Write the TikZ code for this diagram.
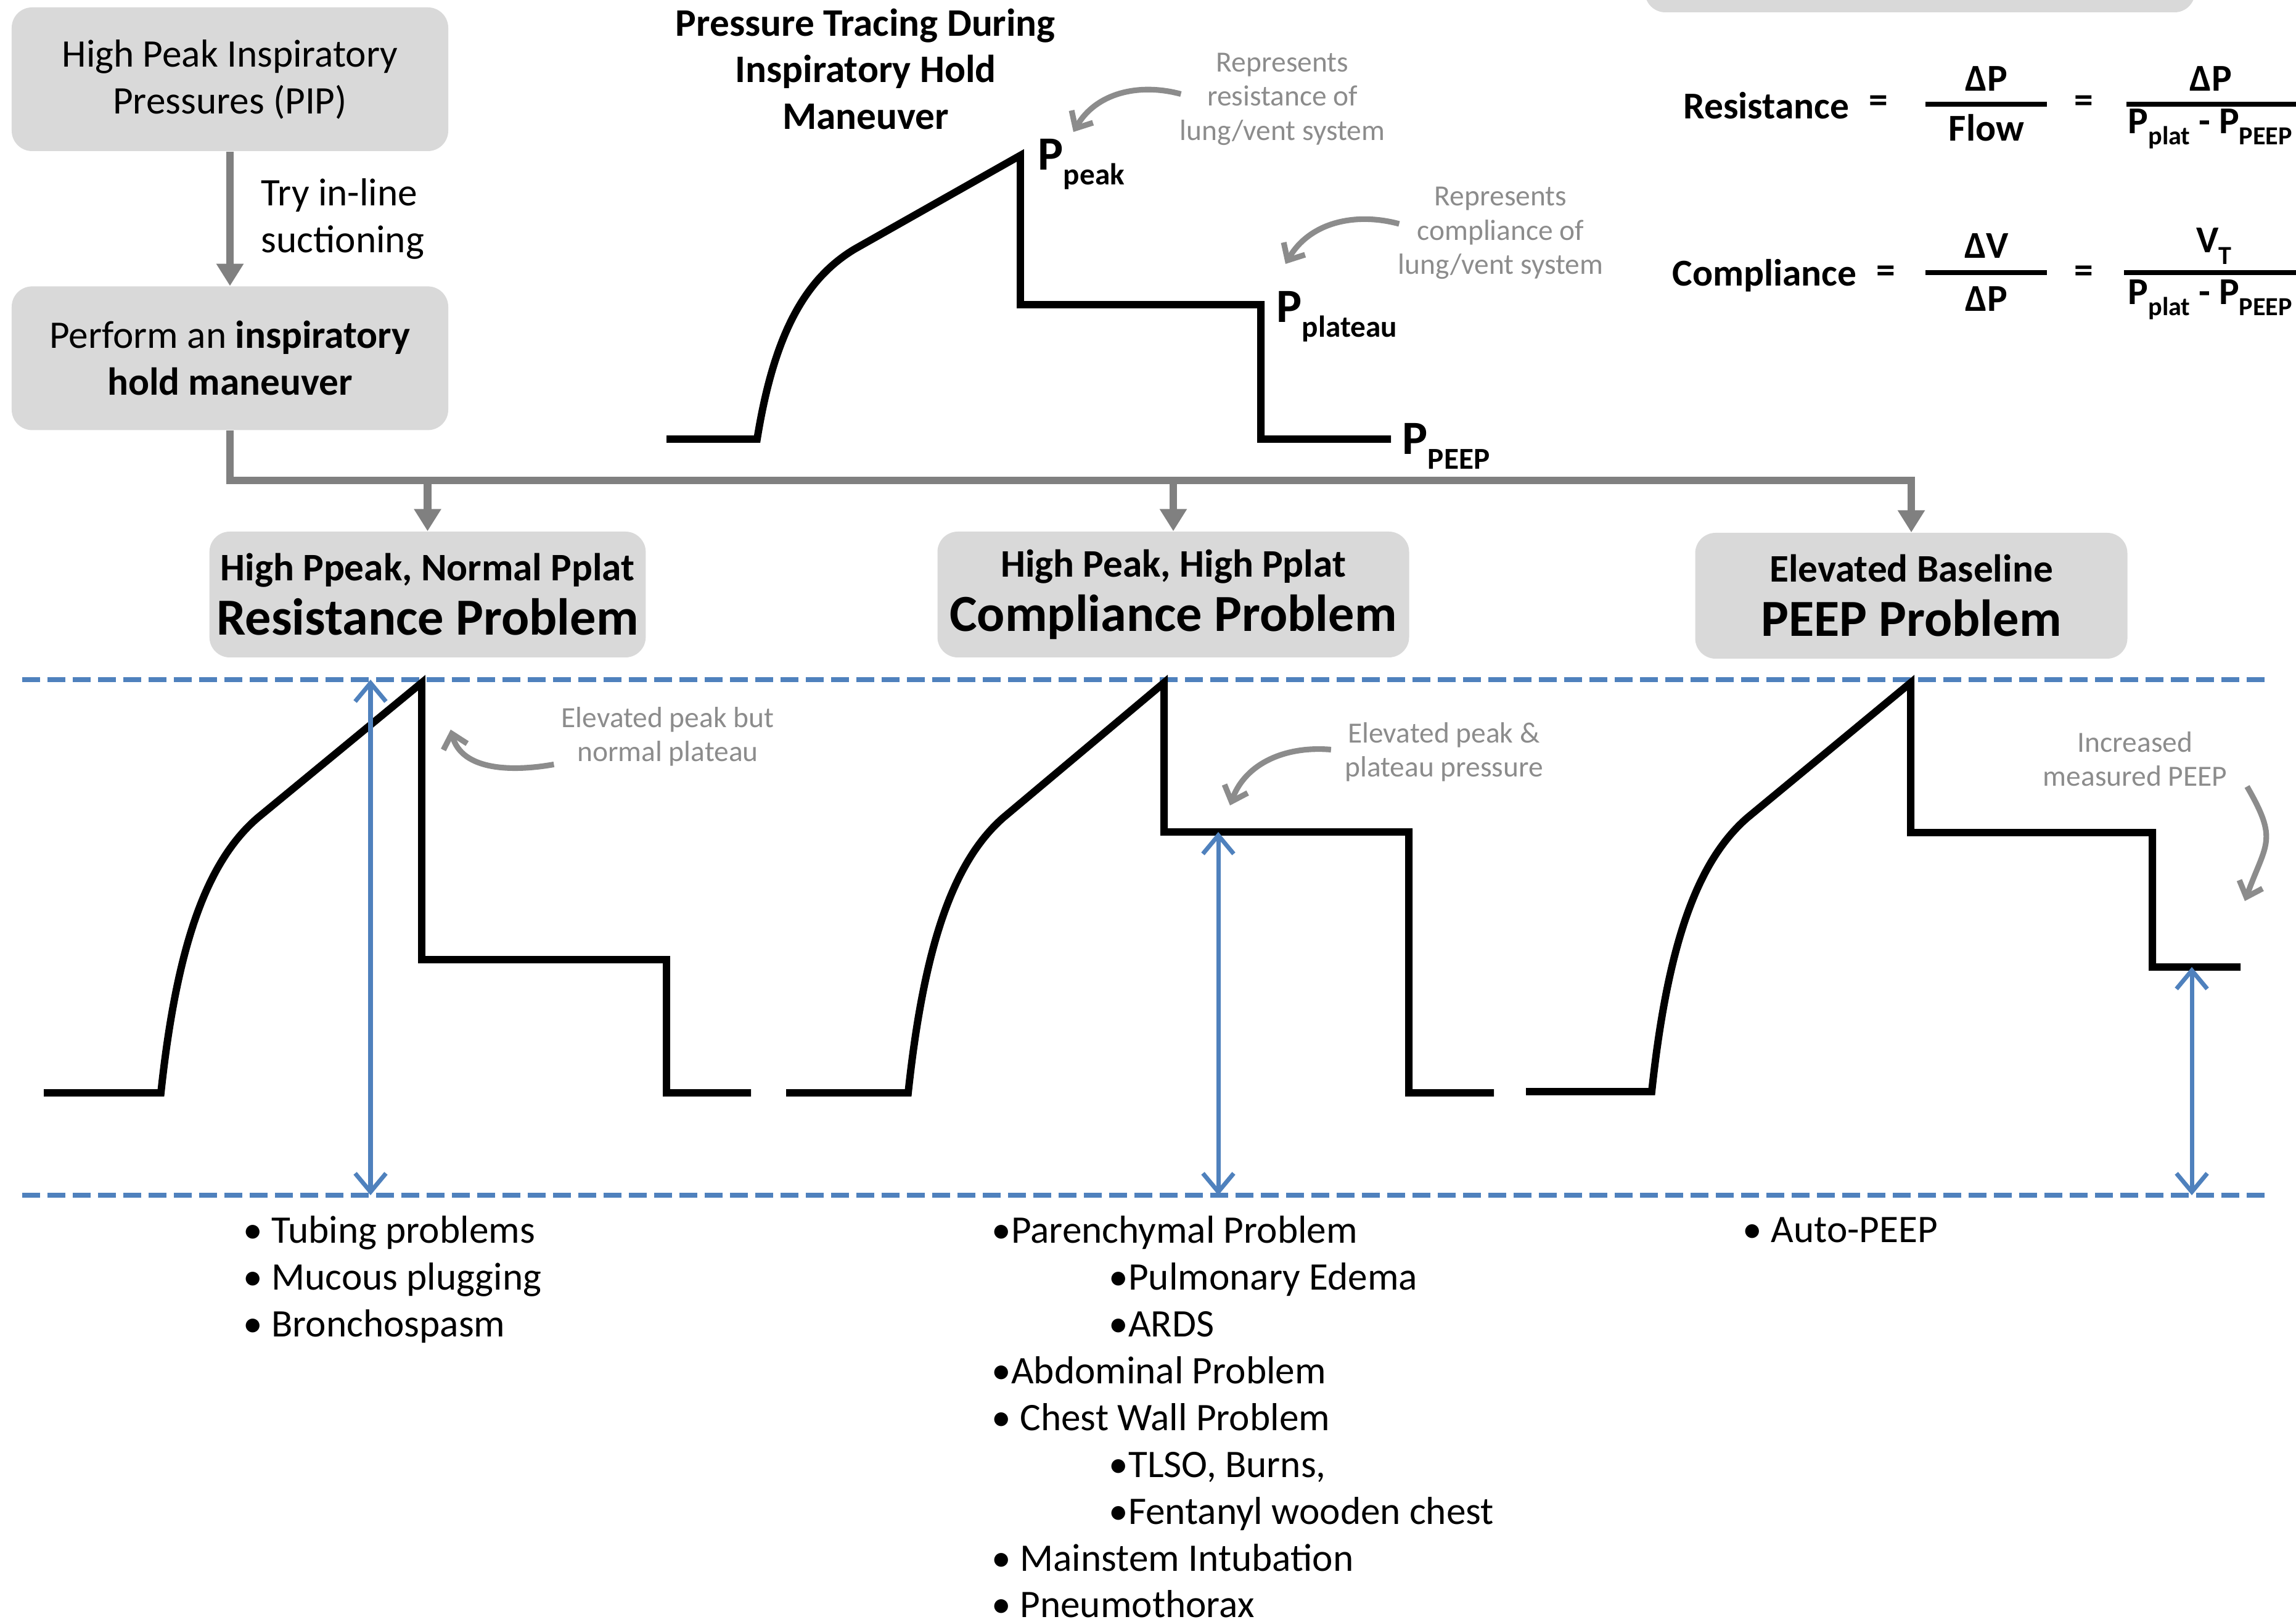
\documentclass[tikz,border=0pt]{standalone}
\usepackage{fontspec}
\setmainfont{Carlito}
\usetikzlibrary{positioning, arrows.meta}
\definecolor{boxgray}{HTML}{D9D9D9}
\definecolor{flowgray}{HTML}{808080}
\definecolor{notegray}{HTML}{8C8C8C}
\definecolor{levelblue}{HTML}{4F81BD}
\newcommand{\psub}[2][13]{\raisebox{-0.3em}{\fontsize{#1}{#1}\selectfont #2}}

\begin{document}
\begin{tikzpicture}[
    gbox/.style={rectangle, fill=boxgray, rounded corners=0.33cm, align=center,
                 minimum width=7.08cm, minimum height=2.33cm,
                 font=\fontsize{18}{21.6}\selectfont},
    probbox/.style={rectangle, fill=boxgray, rounded corners=0.33cm, align=center,
                 minimum height=2.04cm, font=\fontsize{24}{25}\selectfont\bfseries},
    flow/.style={-{Triangle[width=0.42cm,length=0.36cm]}, line width=3.5pt, color=flowgray},
    wave/.style={line width=3.4pt},
    span/.style={{Straight Barb[width=0.5cm,length=0.3cm]}-{Straight Barb[width=0.5cm,length=0.3cm]},
                 line width=2pt, color=levelblue},
    guide/.style={line width=2.2pt, color=levelblue, dash pattern=on 0.29cm off 0.12cm},
    annot/.style={text=notegray, align=center, font=\fontsize{13.5}{15.8}\selectfont},
    notearrow/.style={-{Straight Barb[width=0.4cm,length=0.22cm]}, line width=2.6pt, color=notegray},
    plabel/.style={anchor=base west, inner sep=0pt, font=\fontsize{22}{26}\selectfont\bfseries},
    eqtext/.style={inner sep=0pt, font=\fontsize{17.5}{21}\selectfont\bfseries},
    bullets/.style={anchor=north west, align=left, inner sep=0pt, font=\fontsize{18}{21.6}\selectfont}
]
    \useasboundingbox (0,0) rectangle (37.24,26.29);
    \clip (0,0) rectangle (37.24,26.29);

    % flow chart on the left
    \node[gbox] (pip) at (3.73,25.005) {High Peak Inspiratory\\Pressures (PIP)};
    \node[gbox, below=2.18cm of pip] (hold) {Perform an \textbf{inspiratory}\\\textbf{hold maneuver}};
    \draw[flow] (pip) -- (hold)
        node[midway, right, xshift=0.33cm, align=left, text=black,
             font=\fontsize{18}{21.6}\selectfont] {Try in-line\\suctioning};

    % the three problem boxes
    \node[probbox, minimum width=7.07cm] (resbox) at (6.935,16.65)
        {{\fontsize{18}{22}\selectfont High Ppeak, Normal Pplat}\\Resistance Problem};
    \node[probbox, minimum width=7.65cm] (compbox) at (19.03,16.65)
        {{\fontsize{18}{22}\selectfont High Peak, High Pplat}\\Compliance Problem};
    \node[probbox, minimum width=7.01cm] (peepbox) at (31.0,16.63)
        {{\fontsize{18}{22}\selectfont Elevated Baseline}\\PEEP Problem};

    \coordinate (bus) at (3.73,18.50);
    \draw[flow] (hold.south) -- (bus) -| (peepbox.north);
    \draw[flow] (resbox.north |- bus) -- (resbox.north);
    \draw[flow] (compbox.north |- bus) -- (compbox.north);

    % pressure tracing at the top
    \node[align=center, font=\fontsize{18}{21.6}\selectfont\bfseries] (ttl) at (14.04,25.17)
        {Pressure Tracing During\\Inspiratory Hold\\Maneuver};
    \coordinate (t0) at (10.81,19.17);
    \coordinate (t1) at (12.28,19.17);
    \coordinate (tkn) at (13.86,22.25);
    \coordinate (tpk) at (16.55,23.77);
    \coordinate (tpl) at (20.45,21.35);
    \coordinate (tend) at (22.56,19.17);
    \draw[wave] (t0) -- (t1) .. controls +(0.26,1.61) and +(-0.85,-0.51) .. (tkn)
        -- (tpk) |- (tpl) |- (tend);
    \node[plabel] (ppeak) at (16.83,23.53) {P\psub[14]{peak}};
    \node[plabel] (pplat) at (20.70,21.06) {P\psub[14]{plateau}};
    \node[plabel] (ppeep) at (22.74,18.92) {P\psub[14]{PEEP}};

    \node[annot] (noteres) at (20.80,24.685) {Represents\\resistance of\\lung/vent system};
    \node[annot] (notecomp) at (24.34,22.51) {Represents\\compliance of\\lung/vent system};
    \coordinate (tipres) at (17.41,24.15);
    \coordinate (tipcomp) at (20.85,22.01);
    \draw[notearrow] ([xshift=0.14cm,yshift=0.08cm]noteres.west) to[out=165,in=60] (tipres);
    \draw[notearrow] ([xshift=0.14cm,yshift=0.15cm]notecomp.west) to[out=165,in=60] (tipcomp);

    % formulas
    \node[eqtext] (rname) at (28.65,24.58) {Resistance};
    \node[eqtext] (req1) at (30.47,24.60) {=};
    \node[eqtext] (rnum) at (32.22,25.01) {ΔP};
    \node[eqtext] (rden) at (32.22,24.22) {Flow};
    \node[eqtext] (req2) at (33.80,24.60) {=};
    \node[eqtext] (rnum2) at (35.86,25.01) {ΔP};
    \node[eqtext, anchor=west] (rden2) at (34.51,24.20) {P\psub[12]{plat} - P\psub[12]{PEEP}};
    \draw[line width=2.4pt] (31.23,24.60) -- (33.20,24.60);
    \draw[line width=2.4pt] (34.49,24.60) -- (37.30,24.60);

    \node[eqtext] (cname) at (28.62,21.82) {Compliance};
    \node[eqtext] (ceq1) at (30.59,21.84) {=};
    \node[eqtext] (cnum) at (32.22,22.30) {ΔV};
    \node[eqtext] (cden) at (32.22,21.44) {ΔP};
    \node[eqtext] (ceq2) at (33.80,21.84) {=};
    \node[eqtext] (cnum2) at (35.91,22.30) {V\psub[12]{T}};
    \node[eqtext, anchor=west] (cden2) at (34.51,21.43) {P\psub[12]{plat} - P\psub[12]{PEEP}};
    \draw[line width=2.4pt] (31.23,21.87) -- (33.20,21.87);
    \draw[line width=2.4pt] (34.45,21.87) -- (37.30,21.87);

    \fill[boxgray, rounded corners=0.33cm] (26.68,26.09) rectangle (35.60,27.0);

    % reference levels
    \draw[guide] (0.36,15.27) -- (36.77,15.27);
    \draw[guide] (0.36,6.91) -- (36.77,6.91);

    % resistance tracing
    \coordinate (r0) at (0.71,8.57);
    \coordinate (r1) at (2.61,8.57);
    \coordinate (rkn) at (4.18,13.03);
    \coordinate (rpk) at (6.84,15.22);
    \coordinate (rpl) at (10.81,10.73);
    \coordinate (rend) at (12.18,8.57);
    \draw[wave] (r0) -- (r1) .. controls +(0.25,2.33) and +(-0.85,-0.73) .. (rkn)
        -- (rpk) |- (rpl) |- (rend);
    \coordinate (rtop) at (6.01,15.27);
    \coordinate (rbot) at (6.01,6.91);
    \draw[span] (rtop) -- (rbot);
    \node[annot] (noter) at (10.83,14.345) {Elevated peak but\\normal plateau};
    \coordinate (tipr) at (7.31,14.46);
    \draw[notearrow] ([yshift=-0.45cm]noter.west) to[out=190,in=-75] (tipr);

    % compliance tracing
    \coordinate (c0) at (12.75,8.57);
    \coordinate (c1) at (14.73,8.57);
    \coordinate (ckn) at (16.27,13.03);
    \coordinate (cpk) at (18.88,15.22);
    \coordinate (cpl) at (22.85,12.80);
    \coordinate (cend) at (24.23,8.57);
    \draw[wave] (c0) -- (c1) .. controls +(0.25,2.33) and +(-0.83,-0.73) .. (ckn)
        -- (cpk) |- (cpl) |- (cend);
    \coordinate (ctop) at (19.76,12.80);
    \coordinate (cbot) at (19.76,6.91);
    \draw[span] (ctop) -- (cbot);
    \node[annot] (notec) at (23.42,14.095) {Elevated peak \&\\plateau pressure};
    \coordinate (tipc) at (19.95,13.23);
    \draw[notearrow] ([xshift=-0.1cm,yshift=0.04cm]notec.west) to[out=175,in=70] (tipc);

    % PEEP tracing
    \coordinate (p0) at (24.75,8.59);
    \coordinate (p1) at (26.79,8.59);
    \coordinate (pkn) at (28.34,13.03);
    \coordinate (ppk) at (30.99,15.22);
    \coordinate (ppl) at (34.91,12.79);
    \coordinate (pend) at (36.34,10.61);
    \draw[wave] (p0) -- (p1) .. controls +(0.25,2.32) and +(-0.84,-0.73) .. (pkn)
        -- (ppk) |- (ppl) |- (pend);
    \coordinate (ptop) at (35.55,10.61);
    \coordinate (pbot) at (35.55,6.91);
    \draw[span] (ptop) -- (pbot);
    \node[annot] (notep) at (34.63,13.985) {Increased\\measured PEEP};
    \coordinate (tipp) at (36.41,11.68);
    \draw[notearrow] ([xshift=0.2cm,yshift=0.12cm]notep.south east)
        to[out=-60,in=70,looseness=1.4] (tipp);

    % causes
    \node[bullets] (reslist) at (3.94,6.58)
        {• Tubing problems\\• Mucous plugging\\• Bronchospasm};
    \node[bullets] (complist) at (16.08,6.58)
        {•Parenchymal Problem\\
         \hspace*{1.9cm}•Pulmonary Edema\\
         \hspace*{1.9cm}•ARDS\\
         •Abdominal Problem\\
         • Chest Wall Problem\\
         \hspace*{1.9cm}•TLSO, Burns,\\
         \hspace*{1.9cm}•Fentanyl wooden chest\\
         • Mainstem Intubation\\
         • Pneumothorax};
    \node[bullets] (peeplist) at (28.26,6.56) {• Auto-PEEP};
\end{tikzpicture}
\end{document}
